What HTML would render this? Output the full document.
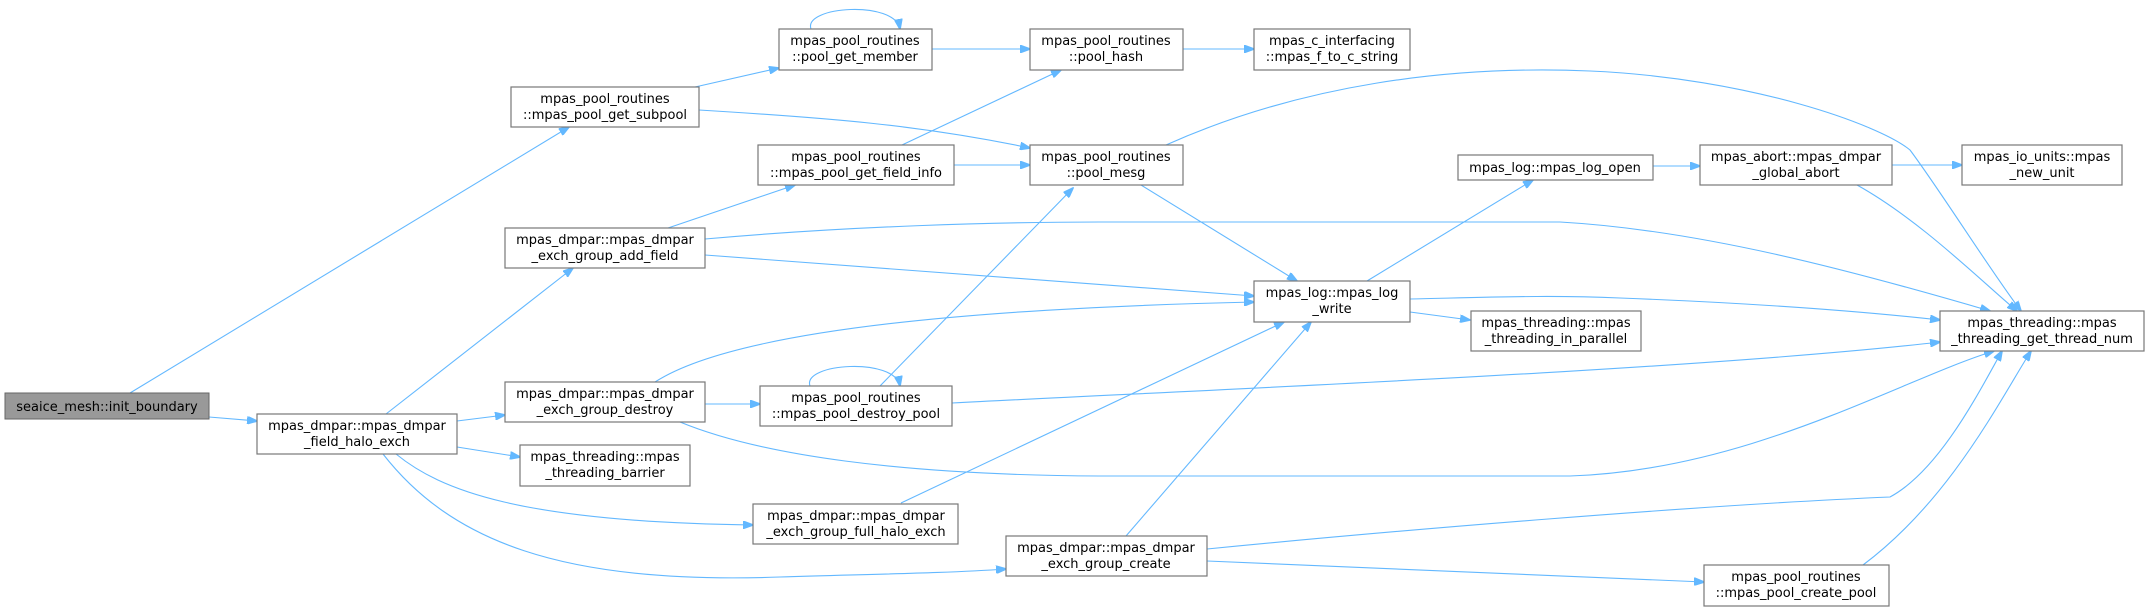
<!DOCTYPE html>
<html><head><meta charset="utf-8"><style>
html,body{margin:0;padding:0;background:#fff;}
svg{display:block;}
text{font-family:"DejaVu Sans","Liberation Sans",sans-serif;font-size:13px;fill:#000;text-anchor:middle;}
.n{fill:#fff;stroke:#777;stroke-width:1.2;}
.e{fill:none;stroke:#63b8ff;stroke-width:1.1;}
</style></head><body>
<svg width="2151" height="608" viewBox="0 0 2151 608" xmlns="http://www.w3.org/2000/svg">
<defs>
<marker id="a" markerWidth="11" markerHeight="8" refX="10" refY="4" orient="auto" markerUnits="userSpaceOnUse">
<path d="M0,0 L11,4 L0,8 Z" fill="#63b8ff" stroke="#63b8ff"/>
</marker>
</defs>
<g class="edges">
<path class="e" marker-end="url(#a)" d="M130,393 L569,127"/>
<path class="e" marker-end="url(#a)" d="M209,417 L257,421"/>
<path class="e" marker-end="url(#a)" d="M386,414 L573,268"/>
<path class="e" marker-end="url(#a)" d="M457,421 L505,415"/>
<path class="e" marker-end="url(#a)" d="M457,447 L520,457"/>
<path class="e" marker-end="url(#a)" d="M396,454 C440,490 520,522 753,525"/>
<path class="e" marker-end="url(#a)" d="M383,454 C450,540 560,585 780,577 C880,574 950,573 1006,569"/>
<path class="e" marker-end="url(#a)" d="M695,87 L779,68"/>
<path class="e" marker-end="url(#a)" d="M699,110 C830,118 920,125 1030,148"/>
<path class="e" marker-end="url(#a)" d="M811,29 C803,6 895,0 900,29"/>
<path class="e" marker-end="url(#a)" d="M932,49 L1030,49"/>
<path class="e" marker-end="url(#a)" d="M902,145 L1061,70"/>
<path class="e" marker-end="url(#a)" d="M954,165 L1030,165"/>
<path class="e" marker-end="url(#a)" d="M668,228 L795,185"/>
<path class="e" marker-end="url(#a)" d="M705,239 C850,226 1000,222 1100,222 L1560,222 C1700,230 1850,270 1990,311"/>
<path class="e" marker-end="url(#a)" d="M705,255 L1254,296"/>
<path class="e" marker-end="url(#a)" d="M655,382 C720,340 900,310 1254,302"/>
<path class="e" marker-end="url(#a)" d="M705,404 L760,404"/>
<path class="e" marker-end="url(#a)" d="M680,422 C760,455 900,475 1100,476 L1570,476 C1750,470 1900,380 1994,351"/>
<path class="e" marker-end="url(#a)" d="M810,386 C802,363 895,357 900,386"/>
<path class="e" marker-end="url(#a)" d="M880,386 L1073,188"/>
<path class="e" marker-end="url(#a)" d="M952,403 C1200,390 1700,370 1940,342"/>
<path class="e" marker-end="url(#a)" d="M901,503 L1284,322"/>
<path class="e" marker-end="url(#a)" d="M1126,536 L1311,322"/>
<path class="e" marker-end="url(#a)" d="M1207,549 C1400,530 1700,505 1890,497 C1940,470 1980,390 2002,351"/>
<path class="e" marker-end="url(#a)" d="M1207,561 L1704,582"/>
<path class="e" marker-end="url(#a)" d="M1863,565 C1950,500 2000,400 2031,351"/>
<path class="e" marker-end="url(#a)" d="M1183,49 L1254,49"/>
<path class="e" marker-end="url(#a)" d="M1166,145 C1300,85 1450,65 1590,71 C1750,78 1880,125 1910,150 C1940,190 1990,270 2021,311"/>
<path class="e" marker-end="url(#a)" d="M1141,185 L1297,281"/>
<path class="e" marker-end="url(#a)" d="M1367,281 L1533,180"/>
<path class="e" marker-end="url(#a)" d="M1410,312 L1470,320"/>
<path class="e" marker-end="url(#a)" d="M1410,299 C1500,297 1550,295 1620,298 C1750,303 1850,310 1940,320"/>
<path class="e" marker-end="url(#a)" d="M1653,166 L1700,166"/>
<path class="e" marker-end="url(#a)" d="M1892,165 L1962,165"/>
<path class="e" marker-end="url(#a)" d="M1857,185 C1920,220 1980,280 2017,311"/>
</g>
<g>
<rect x="5" y="393" width="204" height="26" style="fill:#999;stroke:#666"/>
<text x="107" y="411">seaice_mesh::init_boundary</text>

<rect class="n" x="257" y="414" width="200" height="40"/>
<text x="357" y="430">mpas_dmpar::mpas_dmpar</text><text x="357" y="446">_field_halo_exch</text>

<rect class="n" x="511" y="87" width="188" height="40"/>
<text x="605" y="103">mpas_pool_routines</text><text x="605" y="119">::mpas_pool_get_subpool</text>

<rect class="n" x="779" y="29" width="153" height="41"/>
<text x="855" y="45">mpas_pool_routines</text><text x="855" y="61">::pool_get_member</text>

<rect class="n" x="758" y="145" width="196" height="40"/>
<text x="856" y="161">mpas_pool_routines</text><text x="856" y="177">::mpas_pool_get_field_info</text>

<rect class="n" x="505" y="228" width="200" height="40"/>
<text x="605" y="244">mpas_dmpar::mpas_dmpar</text><text x="605" y="260">_exch_group_add_field</text>

<rect class="n" x="505" y="382" width="200" height="40"/>
<text x="605" y="398">mpas_dmpar::mpas_dmpar</text><text x="605" y="414">_exch_group_destroy</text>

<rect class="n" x="760" y="386" width="192" height="40"/>
<text x="856" y="402">mpas_pool_routines</text><text x="856" y="418">::mpas_pool_destroy_pool</text>

<rect class="n" x="520" y="445" width="170" height="41"/>
<text x="605" y="461">mpas_threading::mpas</text><text x="605" y="477">_threading_barrier</text>

<rect class="n" x="753" y="504" width="205" height="40"/>
<text x="856" y="520">mpas_dmpar::mpas_dmpar</text><text x="856" y="536">_exch_group_full_halo_exch</text>

<rect class="n" x="1006" y="536" width="201" height="40"/>
<text x="1106" y="552">mpas_dmpar::mpas_dmpar</text><text x="1106" y="568">_exch_group_create</text>

<rect class="n" x="1030" y="29" width="153" height="41"/>
<text x="1106" y="45">mpas_pool_routines</text><text x="1106" y="61">::pool_hash</text>

<rect class="n" x="1030" y="145" width="153" height="40"/>
<text x="1106" y="161">mpas_pool_routines</text><text x="1106" y="177">::pool_mesg</text>

<rect class="n" x="1254" y="29" width="156" height="41"/>
<text x="1332" y="45">mpas_c_interfacing</text><text x="1332" y="61">::mpas_f_to_c_string</text>

<rect class="n" x="1458" y="155" width="195" height="25"/>
<text x="1555" y="172">mpas_log::mpas_log_open</text>

<rect class="n" x="1700" y="145" width="192" height="40"/>
<text x="1796" y="161">mpas_abort::mpas_dmpar</text><text x="1796" y="177">_global_abort</text>

<rect class="n" x="1962" y="145" width="160" height="40"/>
<text x="2042" y="161">mpas_io_units::mpas</text><text x="2042" y="177">_new_unit</text>

<rect class="n" x="1254" y="281" width="156" height="41"/>
<text x="1332" y="297">mpas_log::mpas_log</text><text x="1332" y="313">_write</text>

<rect class="n" x="1471" y="311" width="170" height="40"/>
<text x="1556" y="327">mpas_threading::mpas</text><text x="1556" y="343">_threading_in_parallel</text>

<rect class="n" x="1940" y="311" width="204" height="40"/>
<text x="2042" y="327">mpas_threading::mpas</text><text x="2042" y="343">_threading_get_thread_num</text>

<rect class="n" x="1704" y="565" width="185" height="41"/>
<text x="1796" y="581">mpas_pool_routines</text><text x="1796" y="597">::mpas_pool_create_pool</text>
</g>
</svg>
</body></html>
